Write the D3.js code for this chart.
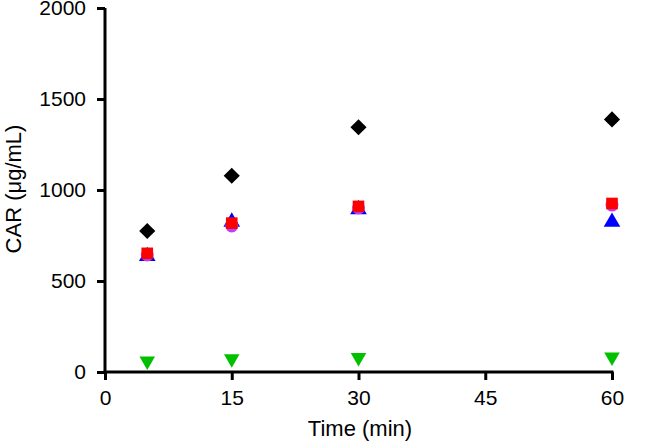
<!DOCTYPE html>
<html><head><meta charset="utf-8">
<script src="https://cdn.jsdelivr.net/npm/d3@7"></script>
<style>body{margin:0;background:#fff}svg{display:block}text{font-family:"Liberation Sans",Arial,sans-serif}</style>
</head><body><svg id="c" width="666" height="444"></svg>
<script>
const times = [5, 15, 30, 60];
const xTicks = [0, 15, 30, 45, 60];
const yTicks = [0, 500, 1000, 1500, 2000];
const diamondVals = [775, 1078, 1345, 1388];
const greenDownVals = [60, 73, 80, 82];
const blueUpVals = [636, 825, 893, 824];
const purpleCircleVals = [643, 802, 902, 917];
const redSquareVals = [652, 818, 910, 926];

const series = [
  {vals: diamondVals, sym: d3.symbolSquare, size: 130, color: "#000000", rot: 45},
  {vals: greenDownVals, sym: d3.symbolTriangle, size: 105, color: "#00c000", rot: 180},
  {vals: blueUpVals, sym: d3.symbolTriangle, size: 120, color: "#0000ff", rot: 0},
  {vals: purpleCircleVals, sym: d3.symbolCircle, size: 130, color: "#b940ff", rot: 0},
  {vals: redSquareVals, sym: d3.symbolSquare, size: 135, color: "#ff0000", rot: 0}
];

const svg = d3.select("#c");
const x = d3.scaleLinear().domain([0, 60]).range([105, 612]);
const y = d3.scaleLinear().domain([0, 2000]).range([372, 8]);

const xa = svg.append("g").attr("transform", "translate(0,372)")
  .call(d3.axisBottom(x).tickValues(xTicks).tickFormat(d3.format("d")).tickSize(8).tickPadding(10));
const ya = svg.append("g").attr("transform", "translate(105,0)")
  .call(d3.axisLeft(y).tickValues(yTicks).tickFormat(d3.format("d")).tickSize(8).tickPadding(11));
[xa, ya].forEach(a => {
  a.attr("font-size", 21).attr("font-family", "'Liberation Sans', Arial, sans-serif");
  a.selectAll("path.domain").attr("stroke", "#000").attr("stroke-width", 3);
  a.selectAll(".tick line").attr("stroke", "#000").attr("stroke-width", 3);
  a.selectAll(".tick text").attr("fill", "#000");
});
ya.select("path.domain").attr("d", `M0,${y(2000)}V${y(0) + 1.5}`);
xa.select("path.domain").attr("d", `M${x(0) - 1.5},0H${x(60) + 1.5}`);

series.forEach(s => {
  svg.append("g").selectAll("path").data(s.vals).join("path")
    .attr("d", d3.symbol().type(s.sym).size(s.size))
    .attr("transform", (v, i) => `translate(${x(times[i])},${y(v)}) rotate(${s.rot})`)
    .attr("fill", s.color);
});

svg.append("text").attr("x", 360).attr("y", 436).attr("text-anchor", "middle")
  .attr("font-size", 22).attr("fill", "#000").text("Time (min)");
svg.append("text").attr("transform", "translate(21,189) rotate(-90)").attr("text-anchor", "middle")
  .attr("font-size", 22).attr("fill", "#000").text("CAR (μg/mL)");
</script></body></html>
